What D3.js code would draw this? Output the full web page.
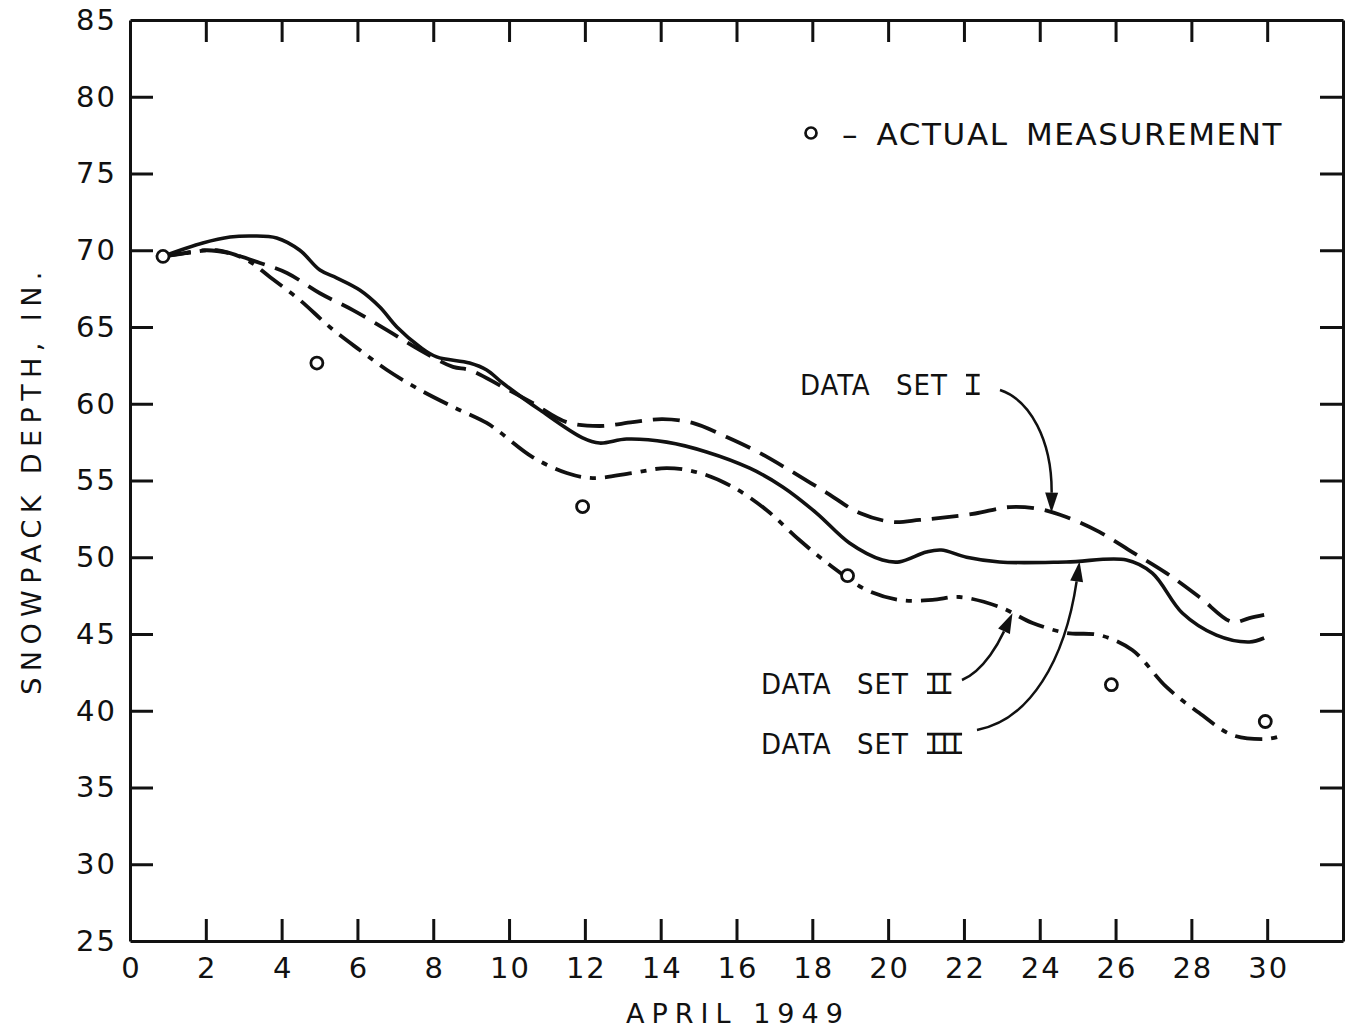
<!DOCTYPE html>
<html>
<head>
<meta charset="utf-8">
<script src="https://cdn.jsdelivr.net/npm/d3@7"></script>
<style>
  html, body { margin: 0; padding: 0; background: #fff; }
  svg { display: block; }
  text { font-family: "DejaVu Sans", sans-serif; fill: #111; }
  .cond { font-family: "DejaVu Sans Condensed", "DejaVu Sans", sans-serif; font-stretch: condensed; }
</style>
</head>
<body>
<svg id="chart" width="1352" height="1029"></svg>
<script>
// Snowpack depth through April 1949: three computed data sets and the measured values.

const xTicks = [0, 2, 4, 6, 8, 10, 12, 14, 16, 18, 20, 22, 24, 26, 28, 30];
const yTicks = [25, 30, 35, 40, 45, 50, 55, 60, 65, 70, 75, 80, 85];

// Data Set I (dashed) — [day, depth in inches]
const dataSetI = [
  [0.9, 69.6], [1.5, 69.85], [2.03, 70.0], [2.64, 69.8], [3.43, 69.17], [4.14, 68.52],
  [5.01, 67.2], [5.88, 66.1], [6.78, 64.8], [7.65, 63.5], [8.52, 62.4], [8.96, 62.2],
  [9.83, 61.1], [10.62, 60.05], [11.52, 58.8], [12.39, 58.55], [13.26, 58.8], [14.05, 59.0],
  [14.84, 58.75], [15.74, 57.83], [16.61, 56.8], [17.48, 55.55], [18.38, 54.2], [19.25, 52.88],
  [20.12, 52.3], [20.83, 52.43], [21.5, 52.6], [22.3, 52.85], [23.2, 53.27], [23.99, 53.14],
  [24.7, 52.62], [25.57, 51.65], [26.44, 50.34], [27.34, 48.97], [28.21, 47.41], [29.08, 45.78],
  [29.53, 46.04], [29.92, 46.24]
];

// Data Set II (dash-dot)
const dataSetII = [
  [0.9, 69.6], [1.6, 69.85], [2.29, 70.0], [3.08, 69.37], [3.69, 68.26], [4.48, 66.76],
  [5.27, 65.0], [6.06, 63.5], [6.78, 62.2], [7.65, 60.9], [8.52, 59.8], [9.41, 58.75],
  [9.75, 58.16], [10.62, 56.53], [11.52, 55.49], [12.21, 55.16], [13.26, 55.49], [14.16, 55.81],
  [15.03, 55.49], [15.9, 54.58], [16.79, 53.08], [17.66, 51.12], [18.53, 49.37], [19.43, 47.87],
  [20.3, 47.22], [21.17, 47.22], [21.88, 47.41], [22.94, 46.76], [23.81, 45.72], [24.7, 45.07],
  [25.57, 44.93], [26.44, 43.96], [27.34, 41.55], [28.21, 39.85], [29.08, 38.42], [29.98, 38.16],
  [30.27, 38.29]
];

// Data Set III (solid)
const dataSetIII = [
  [0.87, 69.6], [1.92, 70.47], [2.64, 70.86], [3.24, 70.93], [3.87, 70.8], [4.48, 70.0],
  [5.01, 68.71], [5.46, 68.19], [6.06, 67.41], [6.59, 66.3], [7.04, 65.0], [7.65, 63.7],
  [8.09, 63.05], [8.96, 62.65], [9.41, 62.2], [9.83, 61.35], [10.81, 59.6], [11.94, 57.77],
  [12.39, 57.44], [13.1, 57.7], [14.16, 57.5], [15.21, 56.86], [16.35, 55.8], [17.22, 54.58],
  [18.11, 52.88], [18.98, 50.93], [19.85, 49.82], [20.3, 49.7], [21.01, 50.34], [21.4, 50.47],
  [22.07, 50.0], [22.94, 49.69], [24.7, 49.69], [26.29, 49.82], [26.97, 48.97], [27.76, 46.37],
  [28.66, 44.93], [29.53, 44.48], [29.92, 44.74]
];

// Actual measurements
const measuredDays = [0.87, 4.93, 11.94, 18.93, 25.89, 29.95];
const measuredDepth = [69.6, 62.65, 53.3, 48.8, 41.7, 39.3];

const svg = d3.select("#chart");
const x = d3.scaleLinear().domain([0, 32]).range([130, 1343]);
const y = d3.scaleLinear().domain([25, 85]).range([941, 20]);
const INK = "#111";

// ---- frame and ticks (ticks point inward on all four sides)
const axisL = d3.axisLeft(y).tickValues(yTicks).tickSizeInner(-23).tickSizeOuter(0).tickPadding(13);
const axisR = d3.axisRight(y).tickValues(yTicks).tickSizeInner(-23).tickSizeOuter(0).tickFormat("");
const axisB = d3.axisBottom(x).tickValues(xTicks).tickSizeInner(-22).tickSizeOuter(0).tickPadding(16);
const axisT = d3.axisTop(x).tickValues(xTicks).tickSizeInner(-22).tickSizeOuter(0).tickFormat("");

function styleAxis(g) {
  g.selectAll("path.domain").attr("stroke", INK).attr("stroke-width", 3);
  g.selectAll(".tick line").attr("stroke", INK).attr("stroke-width", 3);
  g.selectAll(".tick text").style("font-family", "DejaVu Sans, sans-serif")
    .style("font-size", "29px").attr("fill", INK).attr("letter-spacing", "2px");
}
svg.append("g").attr("transform", `translate(${x.range()[0]},0)`).call(axisL).call(styleAxis);
svg.append("g").attr("transform", `translate(${x.range()[1]},0)`).call(axisR).call(styleAxis);
svg.append("g").attr("transform", `translate(0,${y.range()[0]})`).call(axisB).call(styleAxis);
svg.append("g").attr("transform", `translate(0,${y.range()[1]})`).call(axisT).call(styleAxis);

// keep bottom labels centred on their ticks despite the trailing letter spacing
svg.selectAll(".tick text").filter(function () { return this.getAttribute("dy") === "0.71em"; })
  .attr("dx", "1px");

// hide the tick marks that sit on the frame itself
svg.selectAll(".tick").filter(d => d === 0 || d === 25 || d === 85)
  .select("line").attr("stroke-opacity", 0);

// ---- axis titles
svg.append("text")
  .attr("transform", `translate(41,${480}) rotate(-90)`)
  .attr("text-anchor", "middle")
  .attr("font-size", 27).attr("letter-spacing", "6.4px")
  .text("SNOWPACK DEPTH, IN.");

svg.append("text")
  .attr("x", 738).attr("y", 1023)
  .attr("text-anchor", "middle")
  .attr("font-size", 27).attr("letter-spacing", "7px")
  .text("APRIL 1949");

// ---- curves
const line = d3.line().x(d => x(d[0])).y(d => y(d[1])).curve(d3.curveCatmullRom.alpha(0.5));

svg.append("path").datum(dataSetI).attr("d", line)
  .attr("fill", "none").attr("stroke", INK).attr("stroke-width", 3.8)
  .attr("stroke-dasharray", "27 11");

svg.append("path").datum(dataSetII).attr("d", line)
  .attr("fill", "none").attr("stroke", INK).attr("stroke-width", 3.8)
  .attr("stroke-dasharray", "27 9 6 9");

svg.append("path").datum(dataSetIII).attr("d", line)
  .attr("fill", "none").attr("stroke", INK).attr("stroke-width", 3.6);

// ---- measurements
svg.append("g").selectAll("circle")
  .data(measuredDays.map((d, i) => [d, measuredDepth[i]]))
  .join("circle")
  .attr("cx", d => x(d[0])).attr("cy", d => y(d[1])).attr("r", 6)
  .attr("fill", "#fff").attr("stroke", INK).attr("stroke-width", 2.8);

// ---- legend
svg.append("circle").attr("cx", 811).attr("cy", 133).attr("r", 5.5)
  .attr("fill", "#fff").attr("stroke", INK).attr("stroke-width", 2.7);
svg.append("text").attr("x", 842).attr("y", 145)
  .attr("font-size", 31).attr("letter-spacing", "1.6px").attr("word-spacing", "6px")
  .text("– ACTUAL MEASUREMENT");

// ---- callouts
function valueAt(series, day) {
  const i = d3.bisector(d => d[0]).left(series, day);
  const a = series[Math.max(0, i - 1)], b = series[Math.min(series.length - 1, i)];
  const t = b[0] === a[0] ? 0 : (day - a[0]) / (b[0] - a[0]);
  return a[1] + t * (b[1] - a[1]);
}

// label text with a Roman numeral carrying full-width top and bottom bars
function label(px, py, words, numeral) {
  const fs = 29;
  const w = svg.append("text").attr("class", "cond").attr("x", px).attr("y", py)
    .attr("font-size", fs).attr("letter-spacing", "1px").attr("word-spacing", "16px")
    .text(words);
  const nx = px + w.node().getComputedTextLength() + 21;
  const n = svg.append("text").attr("class", "cond").attr("x", nx).attr("y", py)
    .attr("font-size", fs).attr("letter-spacing", "3px").text(numeral);
  const len = n.node().getComputedTextLength() - 3;
  const cap = fs * 0.729;
  [py - cap + 1.3, py - 1.3].forEach(by => {
    svg.append("line").attr("x1", nx - 3).attr("x2", nx + len + 3)
      .attr("y1", by).attr("y2", by).attr("stroke", INK).attr("stroke-width", 2.6);
  });
  return nx + len;
}

// arrow from a label toward a point on a curve, with a filled head at the tip
function arrow(start, c1, c2, tip) {
  const ang = Math.atan2(tip[1] - c2[1], tip[0] - c2[0]);
  const headLen = 20, headHalf = 6.5;
  const base = [tip[0] - headLen * Math.cos(ang), tip[1] - headLen * Math.sin(ang)];
  svg.append("path")
    .attr("d", `M${start[0]},${start[1]} C${c1[0]},${c1[1]} ${c2[0]},${c2[1]} ${base[0]},${base[1]}`)
    .attr("fill", "none").attr("stroke", INK).attr("stroke-width", 2.5);
  const nx = -Math.sin(ang), ny = Math.cos(ang);
  svg.append("path")
    .attr("d", `M${tip[0]},${tip[1]} L${base[0] + nx * headHalf},${base[1] + ny * headHalf} ` +
               `L${base[0] - nx * headHalf},${base[1] - ny * headHalf} Z`)
    .attr("fill", INK);
}

label(800, 395, "DATA SET", "I");
label(761, 694, "DATA SET", "II");
label(761, 754, "DATA SET", "III");

const tipI = [x(24.31), y(valueAt(dataSetI, 24.31))];
const tipII = [x(23.28), y(valueAt(dataSetII, 23.28))];
const tipIII = [x(25.05), y(valueAt(dataSetIII, 25.05))];

arrow([1000, 390], [1030, 400], [1052, 440], tipI);
arrow([962, 680], [985, 670], [1000, 640], tipII);
arrow([977, 730], [1030, 720], [1065, 660], tipIII);
</script>
</body>
</html>
